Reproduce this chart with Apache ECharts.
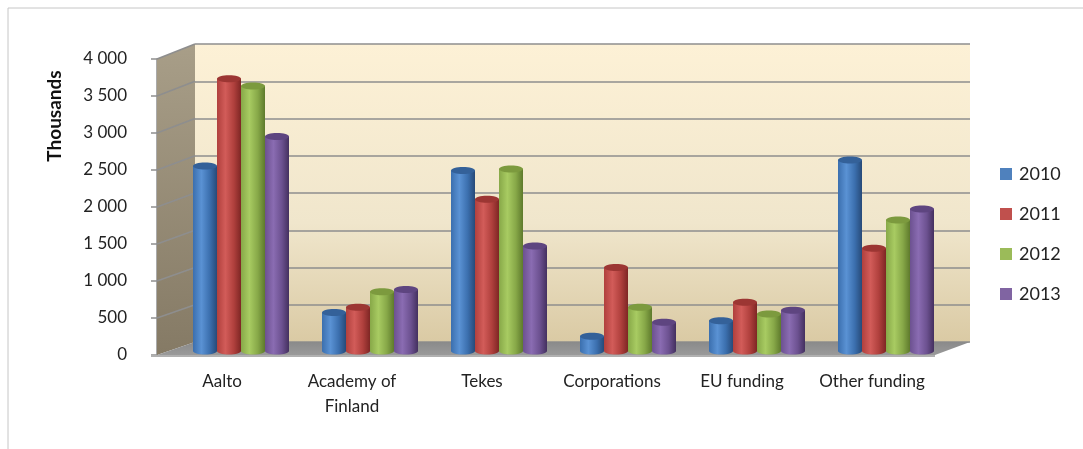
<!DOCTYPE html>
<html>
<head>
<meta charset="utf-8">
<script src="https://cdn.jsdelivr.net/npm/echarts@6/dist/echarts.min.js"></script>
<style>
  html, body { margin: 0; padding: 0; background: #fff; }
  #chart { width: 1083px; height: 449px; }
</style>
</head>
<body>
<div id="chart"></div>
<script>
const chart = echarts.init(document.getElementById('chart'));

// data
const categories = ['Aalto', 'Academy of\nFinland', 'Tekes', 'Corporations', 'EU funding', 'Other funding'];
const years = ['2010', '2011', '2012', '2013'];
const v2010 = [2500, 520, 2440, 200, 410, 2580];
const v2011 = [3680, 590, 2050, 1130, 660, 1390];
const v2012 = [3580, 800, 2460, 590, 500, 1770];
const v2013 = [2900, 830, 1420, 390, 550, 1920];
const yTicks = [0, 500, 1000, 1500, 2000, 2500, 3000, 3500, 4000];

// cylinder shades: [left, highlight, right dark, top]
const shades = [
    ['#3b6fae', '#5a92d4', '#274a78', '#346199'],
    ['#b0403d', '#d25c59', '#7e2624', '#9c3633'],
    ['#87a848', '#a8cb62', '#5e7a2c', '#7c9a3e'],
    ['#6c5190', '#8a6cb2', '#44305f', '#5e4580']
];
const baseColors = ['#4f81bd', '#c0504d', '#9bbb59', '#8064a2'];
const allValues = [v2010, v2011, v2012, v2013];

const font = 'Lato, "Open Sans", sans-serif';

function cylinder(si) {
    return function (params, api) {
        const cat = api.value(0);
        const val = api.value(1);
        const top = api.coord([cat, val]);
        const base = api.coord([cat, 0]);
        const bw = 24;
        const x = top[0] + (si - 2) * bw;
        const ry = 3.5;
        const s = shades[si];
        const grad = new echarts.graphic.LinearGradient(0, 0, 1, 0, [
            { offset: 0, color: s[0] },
            { offset: 0.35, color: s[1] },
            { offset: 0.7, color: s[0] },
            { offset: 1, color: s[2] }
        ]);
        return {
            type: 'group',
            children: [
                {
                    type: 'rect',
                    shape: { x: x, y: top[1], width: bw, height: base[1] - top[1] },
                    style: { fill: grad }
                },
                {
                    type: 'ellipse',
                    shape: { cx: x + bw / 2, cy: base[1], rx: bw / 2, ry: ry },
                    style: { fill: grad }
                },
                {
                    type: 'ellipse',
                    shape: { cx: x + bw / 2, cy: top[1], rx: bw / 2, ry: ry },
                    style: { fill: s[3] }
                }
            ]
        };
    };
}

const series = years.map((y, i) => ({
    name: y,
    type: 'custom',
    xAxisIndex: 2,
    yAxisIndex: 2,
    z: 5,
    itemStyle: { color: baseColors[i] },
    renderItem: cylinder(i),
    data: allValues[i].map((v, c) => [c, v])
}));

const wallGrad = new echarts.graphic.LinearGradient(0, 0, 0, 1, [
    { offset: 0, color: '#fdf1d6' },
    { offset: 0.6, color: '#f0e6cc' },
    { offset: 1, color: '#dacaa4' }
]);

const option = {
    animation: false,
    grid: [
        // back wall
        { left: 195, top: 44, width: 775, height: 298, show: true, backgroundColor: wallGrad, borderWidth: 0 },
        // front axis
        { left: 157, top: 59, width: 780, height: 296 },
        // bars
        { left: 176.5, top: 55, width: 774, height: 296 }
    ],
    xAxis: [
        { type: 'category', gridIndex: 0, data: categories, show: false },
        {
            type: 'category', gridIndex: 1, data: categories,
            axisLine: { show: false }, axisTick: { show: false },
            axisLabel: {
                interval: 0, hideOverlap: false,
                fontFamily: font, fontSize: 17, color: '#222', margin: 14, lineHeight: 25
            }
        },
        { type: 'category', gridIndex: 2, data: categories, show: false }
    ],
    yAxis: [
        {
            type: 'value', gridIndex: 0, min: 0, max: 4000, interval: 500,
            axisLabel: { show: false }, axisLine: { show: false }, axisTick: { show: false },
            splitLine: { lineStyle: { color: '#8e8e8e', width: 1.6 } }
        },
        {
            type: 'value', gridIndex: 1, min: 0, max: 4000, interval: 500,
            axisLabel: {
                fontFamily: font, fontSize: 17, color: '#222', margin: 30,
                formatter: v => String(v).replace(/\B(?=(\d{3})+(?!\d))/g, ' ')
            },
            axisLine: { show: true, lineStyle: { color: '#8e8e8e', width: 1.5 } },
            axisTick: { show: true, length: 6, lineStyle: { color: '#8e8e8e', width: 1.5 } },
            splitLine: { show: false }
        },
        { type: 'value', gridIndex: 2, min: 0, max: 4000, show: false }
    ],
    legend: {
        data: years,
        orient: 'vertical',
        left: 995,
        top: 160,
        itemWidth: 12,
        itemHeight: 12,
        itemGap: 22,
        icon: 'rect',
        textStyle: { fontFamily: font, fontSize: 18, color: '#222', padding: [0, 0, 0, 2] }
    },
    series: series
};

chart.setOption(option);

// walls and floor, placed from the axes
const frontX = 157, backX = 195, rightBack = 970, rightFront = 935;
const f0 = chart.convertToPixel({ yAxisIndex: 1 }, 0);
const f4 = chart.convertToPixel({ yAxisIndex: 1 }, 4000);
const b0 = chart.convertToPixel({ yAxisIndex: 0 }, 0);
const b4 = chart.convertToPixel({ yAxisIndex: 0 }, 4000);

const graphics = [
    {
        type: 'rect', z: -10, silent: true,
        shape: { x: 8, y: 8, width: 1100, height: 460 },
        style: { fill: '#fff', stroke: '#c6c6c6', lineWidth: 1 }
    },
    {
        type: 'text', z: 5, silent: true,
        x: 55, y: 116, rotation: Math.PI / 2,
        style: {
            text: 'Thousands', fontFamily: font, fontSize: 19, fontWeight: 'bold',
            fill: '#111', align: 'center', verticalAlign: 'middle'
        }
    },
    {
        type: 'polygon', z: 1, silent: true,
        shape: { points: [[frontX, f4], [backX, b4], [backX, b0], [frontX, f0]] },
        style: {
            fill: new echarts.graphic.LinearGradient(0, 0, 0, 1, [
                { offset: 0, color: '#a89e88' },
                { offset: 1, color: '#857a65' }
            ])
        }
    }
];
yTicks.forEach(t => {
    if (t === 0) return;
    const yf = chart.convertToPixel({ yAxisIndex: 1 }, t);
    const yb = chart.convertToPixel({ yAxisIndex: 0 }, t);
    graphics.push({
        type: 'line', z: 2, silent: true,
        shape: { x1: frontX, y1: yf, x2: backX, y2: yb },
        style: { stroke: '#8e8e8e', lineWidth: 1.6 }
    });
});
graphics.push({
    type: 'polygon', z: 3, silent: true,
    shape: { points: [[frontX, f0], [rightFront, f0], [rightBack, b0], [backX, b0]] },
    style: {
        fill: new echarts.graphic.LinearGradient(0, 0, 0, 1, [
            { offset: 0, color: '#8a8a8a' },
            { offset: 1, color: '#9a9a9a' }
        ])
    }
});
graphics.push({
    type: 'line', z: 3, silent: true,
    shape: { x1: frontX - 6, y1: f0 + 1, x2: rightFront, y2: f0 + 1 },
    style: { stroke: '#b0b0b0', lineWidth: 2 }
});

chart.setOption({ graphic: graphics });
</script>
</body>
</html>
